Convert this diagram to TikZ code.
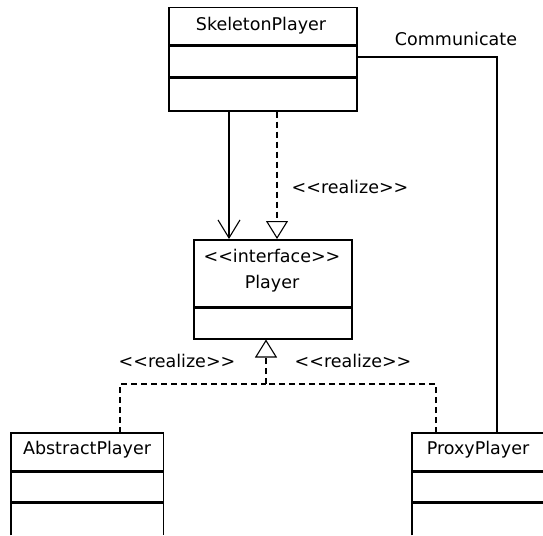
\documentclass[tikz,border=0pt]{standalone}
\usepackage{fontspec}
\setmainfont{DejaVu Sans}
\usetikzlibrary{arrows.meta}
\begin{document}
\begin{tikzpicture}[x=1pt,y=-1pt,
  every node/.style={font=\fontsize{17.5}{20}\selectfont, inner sep=0pt},
  classbox/.style={draw, line width=1.5pt, anchor=north west, fill=none},
  openbox/.style={anchor=north west, fill=none},
  boxline/.style={line width=1.5pt},
  divider/.style={line width=3pt},
  conn/.style={line width=1.1pt},
  realize/.style={line width=1.1pt, dash pattern=on 6pt off 4pt,
    -{Triangle[open, length=18pt, width=22pt, fill=white, line width=1.1pt]}},
  assoc/.style={line width=1.1pt, -{Straight Barb[length=18pt, width=22pt, line width=1.1pt]}}
]
\useasboundingbox (0,0) rectangle (543,535);
\fill[white] (0,0) rectangle (543,535);

% SkeletonPlayer
\node[classbox, minimum width=188pt, minimum height=103pt] (sk) at (168,7) {};
\node (skt) at (261,26) {SkeletonPlayer};
\draw[divider] (168,46) -- (356,46);
\draw[divider] (168,77) -- (356,77);

% Player
\node[classbox, minimum width=158pt, minimum height=99pt] (pl) at (193,239) {};
\node (plst) at (272,256) {<{}<interface>{}>};
\node (plt) at (272,284) {Player};
\draw[divider] (193,307) -- (351,307);

% AbstractPlayer (continues past the bottom edge)
\node[openbox, minimum width=152pt, minimum height=102pt] (ab) at (11,433) {};
\draw[boxline] (ab.south west) -- (ab.north west) -- (ab.north east) -- (ab.south east);
\node (abt) at (87,450) {AbstractPlayer};
\draw[divider] (11,471) -- (163,471);
\draw[divider] (11,502) -- (163,502);

% ProxyPlayer (continues past the right and bottom edges)
\node[openbox, minimum width=131pt, minimum height=102pt] (px) at (412,433) {};
\draw[boxline] (px.south west) -- (px.north west) -- (px.north east);
\node (pxt) at (478,450) {ProxyPlayer};
\draw[divider] (412,471) -- (543,471);
\draw[divider] (412,502) -- (543,502);

% connectors
\draw[assoc] ([xshift=61pt]sk.south west) -- ([xshift=36pt]pl.north west);
\draw[realize] ([xshift=109pt]sk.south west) -- ([xshift=84pt]pl.north west);
\node (r1) at (350,187) {<{}<realize>{}>};

\coordinate (jn) at (266,384);
\draw[conn, dash pattern=on 6pt off 4pt] ([xshift=109pt]ab.north west) |- (jn);
\draw[conn, dash pattern=on 6pt off 4pt] ([xshift=24pt]px.north west) |- (jn);
\draw[realize] (jn) -- ([xshift=73pt]pl.south west);
\node (r2) at (177,361) {<{}<realize>{}>};
\node (r3) at (353,361) {<{}<realize>{}>};

\draw[conn] ([yshift=-50pt]sk.north east) -| ([xshift=85pt]px.north west);
\node (cm) at (456,39) {Communicate};
\end{tikzpicture}
\end{document}
